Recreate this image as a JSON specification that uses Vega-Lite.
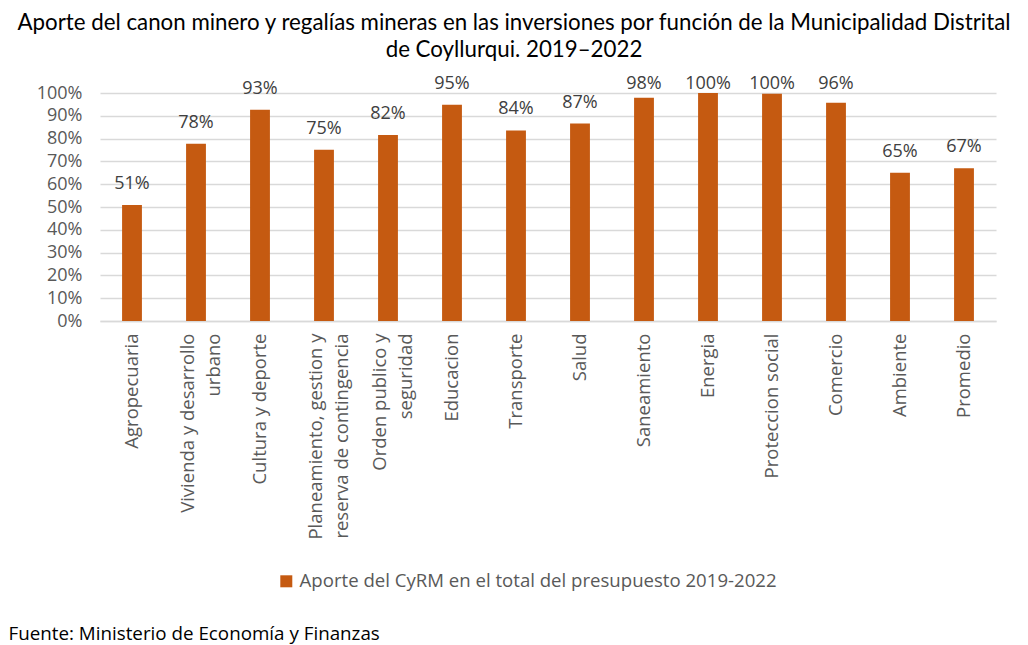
{
  "$schema": "https://vega.github.io/schema/vega-lite/v6.json",
  "width": 896,
  "height": 228,
  "autosize": {"type": "none"},
  "padding": {"left": 100, "top": 93, "right": 32, "bottom": 324},
  "background": "white",
  "title": {
    "text": ["Aporte del canon minero y regalías mineras en las inversiones por función de la Municipalidad Distrital", "de Coyllurqui. 2019–2022"],
    "anchor": "middle",
    "frame": "group",
    "dx": -34,
    "offset": 14,
    "font": "Lato",
    "fontSize": 22.3,
    "fontWeight": "normal",
    "color": "#000000",
    "lineHeight": 27
  },
  "data": {
    "values": [
      {"funcion": "Agropecuaria", "aporte": 0.509, "serie": "Aporte del CyRM en el total del presupuesto 2019-2022"},
      {"funcion": "Vivienda y desarrollo|urbano", "aporte": 0.777, "serie": "Aporte del CyRM en el total del presupuesto 2019-2022"},
      {"funcion": "Cultura y deporte", "aporte": 0.926, "serie": "Aporte del CyRM en el total del presupuesto 2019-2022"},
      {"funcion": "Planeamiento, gestion y|reserva de contingencia", "aporte": 0.751, "serie": "Aporte del CyRM en el total del presupuesto 2019-2022"},
      {"funcion": "Orden publico y|seguridad", "aporte": 0.816, "serie": "Aporte del CyRM en el total del presupuesto 2019-2022"},
      {"funcion": "Educacion", "aporte": 0.948, "serie": "Aporte del CyRM en el total del presupuesto 2019-2022"},
      {"funcion": "Transporte", "aporte": 0.836, "serie": "Aporte del CyRM en el total del presupuesto 2019-2022"},
      {"funcion": "Salud", "aporte": 0.866, "serie": "Aporte del CyRM en el total del presupuesto 2019-2022"},
      {"funcion": "Saneamiento", "aporte": 0.979, "serie": "Aporte del CyRM en el total del presupuesto 2019-2022"},
      {"funcion": "Energia", "aporte": 1.0, "serie": "Aporte del CyRM en el total del presupuesto 2019-2022"},
      {"funcion": "Proteccion social", "aporte": 0.997, "serie": "Aporte del CyRM en el total del presupuesto 2019-2022"},
      {"funcion": "Comercio", "aporte": 0.957, "serie": "Aporte del CyRM en el total del presupuesto 2019-2022"},
      {"funcion": "Ambiente", "aporte": 0.65, "serie": "Aporte del CyRM en el total del presupuesto 2019-2022"},
      {"funcion": "Promedio", "aporte": 0.67, "serie": "Aporte del CyRM en el total del presupuesto 2019-2022"}
    ]
  },
  "encoding": {
    "x": {
      "field": "funcion",
      "type": "nominal",
      "sort": null,
      "scale": {"paddingInner": 0.69, "paddingOuter": 0.345},
      "axis": {
        "title": "Fuente: Ministerio de Economía y Finanzas",
        "titleAnchor": "start",
        "titleAlign": "left",
        "titleX": -92,
        "titleY": 312,
        "titleBaseline": "middle",
        "titleFont": "Open Sans",
        "titleFontSize": 18.8,
        "titleFontWeight": "normal",
        "titleColor": "#000000",
        "labelAngle": -90,
        "labelExpr": "split(datum.label, '|')",
        "labelFont": "Open Sans",
        "labelFontSize": 18.5,
        "labelColor": "#595959",
        "labelPadding": 12,
        "labelLimit": 400,
        "labelLineHeight": 26,
        "labelOffset": {"condition": {"test": "indexof(datum.value, '|') >= 0", "value": -8}, "value": 0},
        "ticks": false,
        "domainColor": "#d9d9d9",
        "domainWidth": 1.5
      }
    }
  },
  "layer": [
    {
      "mark": {"type": "bar", "color": "#C55A11"},
      "encoding": {
        "y": {
          "field": "aporte",
          "type": "quantitative",
          "scale": {"domain": [0, 1], "nice": false},
          "axis": {
            "title": null,
            "format": ".0%",
            "values": [0, 0.1, 0.2, 0.3, 0.4, 0.5, 0.6, 0.7, 0.8, 0.9, 1.0],
            "labelFont": "Open Sans",
            "labelFontSize": 18,
            "labelColor": "#595959",
            "labelPadding": 18,
            "ticks": false,
            "domain": false,
            "gridColor": "#d9d9d9",
            "gridWidth": 1.5
          }
        },
        "color": {
          "field": "serie",
          "type": "nominal",
          "scale": {"range": ["#C55A11"]},
          "legend": {
            "title": null,
            "orient": "none",
            "legendX": 177,
            "legendY": 479,
            "padding": 0,
            "symbolType": "square",
            "symbolSize": 144,
            "symbolStrokeWidth": 0,
            "labelFont": "Open Sans",
            "labelFontSize": 18.6,
            "labelColor": "#595959",
            "labelOffset": 4,
            "labelLimit": 700
          }
        }
      }
    },
    {
      "mark": {"type": "text", "baseline": "alphabetic", "dy": -16, "font": "Open Sans", "fontSize": 18, "color": "#404040"},
      "encoding": {
        "y": {
          "field": "aporte",
          "type": "quantitative",
          "scale": {"domain": [0, 0.947], "range": [228, 12.08], "clamp": true, "nice": false, "zero": false},
          "axis": null
        },
        "text": {"field": "aporte", "type": "quantitative", "format": ".0%"}
      }
    }
  ],
  "resolve": {"scale": {"y": "independent"}},
  "config": {
    "view": {"stroke": null}
  }
}
